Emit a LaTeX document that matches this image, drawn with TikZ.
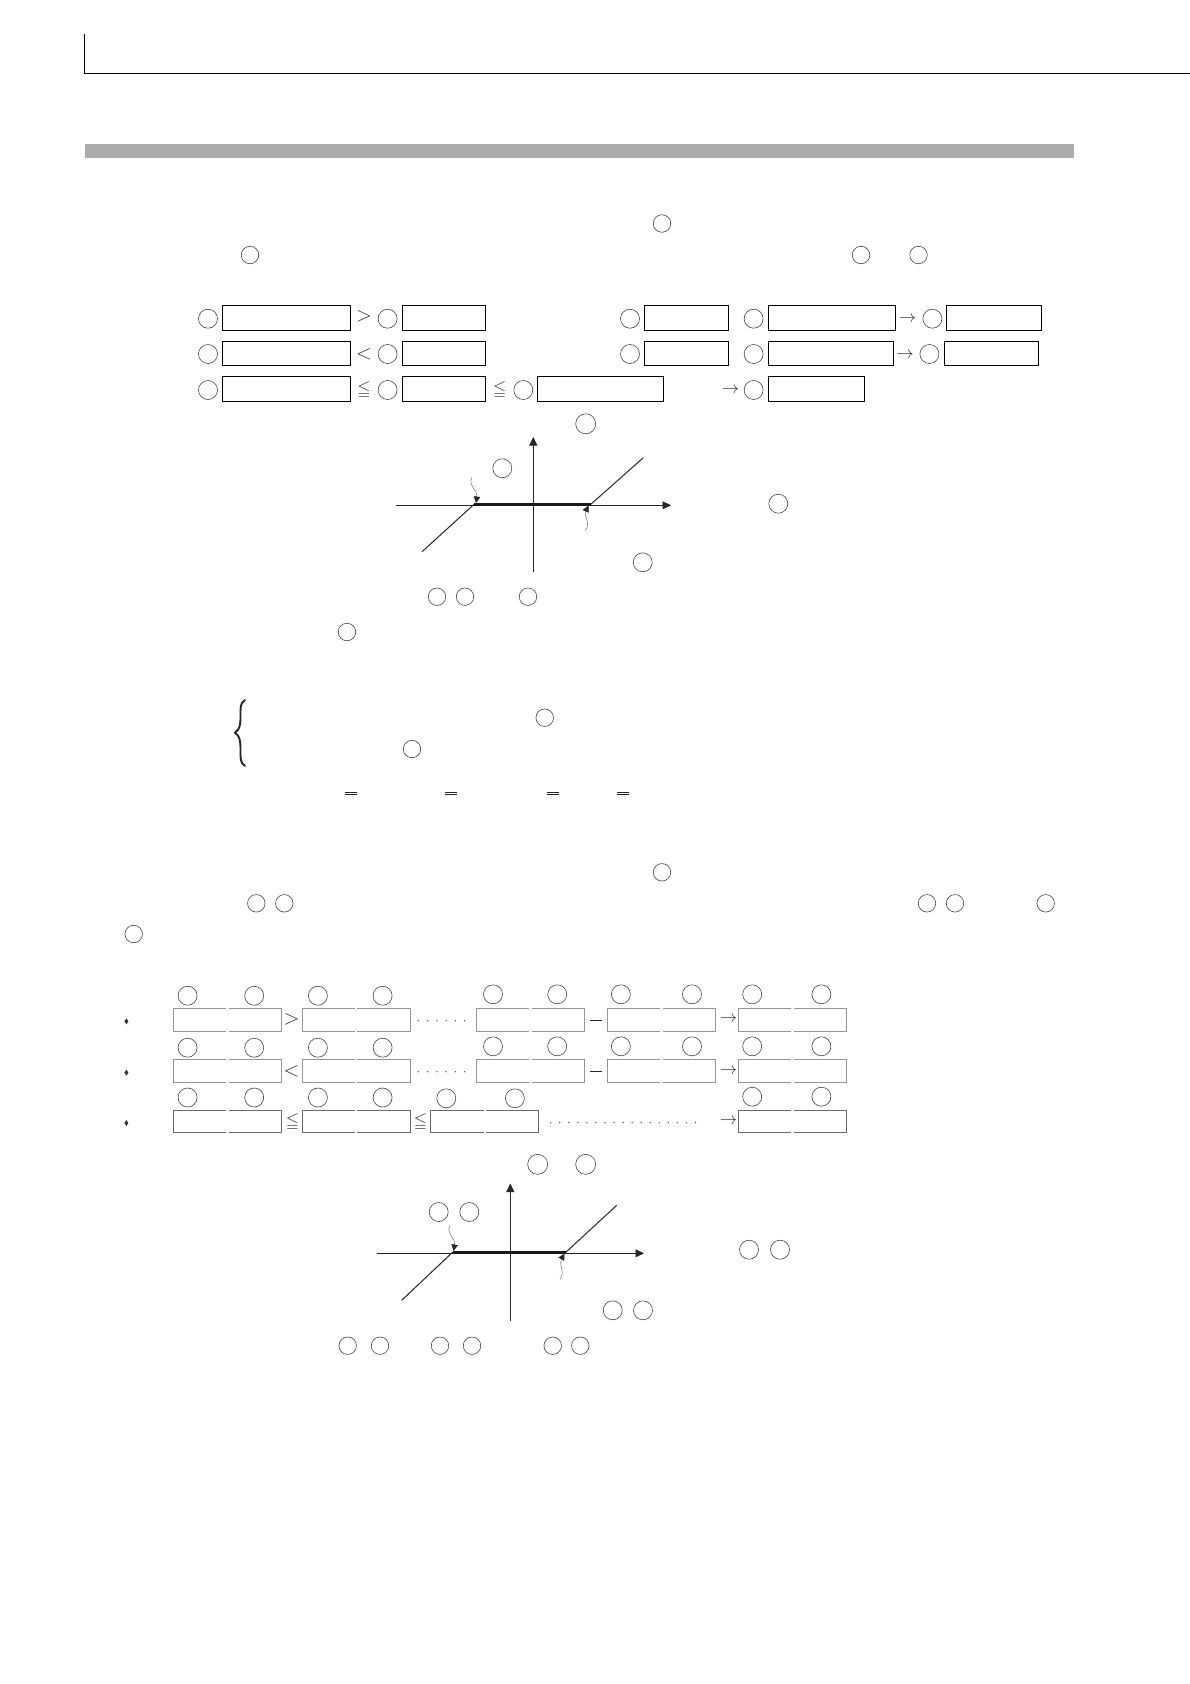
\documentclass[tikz,border=0pt]{standalone}
\usepackage{amssymb}
\usetikzlibrary{arrows.meta}
\definecolor{barcol}{HTML}{ADABAB}
\definecolor{ringcol}{HTML}{444444}
\definecolor{softbox}{HTML}{969696}
\definecolor{darkbox}{HTML}{6A6A6A}
\definecolor{glyphcol}{HTML}{333333}
\tikzset{
  ringa/.style={circle,draw=ringcol,line width=0.6pt,inner sep=0pt,minimum size=17.5pt},
  ringb/.style={circle,draw=ringcol,line width=0.6pt,inner sep=0pt,minimum size=19pt},
  ringc/.style={circle,draw=ringcol,line width=0.6pt,inner sep=0pt,minimum size=20pt},
  symb/.style={inner sep=0pt,text=glyphcol,font=\fontsize{17}{17}\selectfont},
  bigsymb/.style={inner sep=0pt,text=glyphcol,font=\fontsize{21}{21}\selectfont},
  solidbox/.style={draw=black,line width=1pt},
  axisline/.style={draw=black!85,line width=0.9pt},
  slope/.style={draw=black!85,line width=1pt},
  flat/.style={draw=black!90,line width=3pt},
  axisarrow/.style={-{Triangle[length=8.5pt,width=8pt]}},
  leader/.style={draw=black!55,line width=0.5pt,-{Triangle[length=6.5pt,width=6.5pt,color=black!85]}}
}
\newcommand{\solbx}[4]{\draw[solidbox] (#1,#3) rectangle (#2,#4);}
\newcommand{\pairbx}[7]{%
  \draw[#7,line width=0.9pt] (#2,#5) -- (#1,#5) -- (#1,#6) -- (#2,#6);
  \draw[#7,line width=0.9pt] (#3,#5) -- (#4,#5) -- (#4,#6) -- (#3,#6);}
\newcommand{\gemdot}[2]{\fill[black!80] (#1,#2-3) -- (#1+2,#2) -- (#1,#2+3) -- (#1-2,#2) -- cycle;}
\newcommand{\dotrow}[4]{\foreach \i in {1,...,#4}{\fill[black!70] ({#1+(#2-#1)*(\i-1)/(#4-1)},#3) circle (0.75pt);}}
\newcommand{\dbar}[2]{\draw[black!85,line width=0.7pt] (#1-6,#2-1.2) -- (#1+6,#2-1.2) (#1-6,#2+1.2) -- (#1+6,#2+1.2);}
\begin{document}
\begin{tikzpicture}[x=1pt,y=-1pt]
\useasboundingbox (0,0) rectangle (1190,1684);
% header
\coordinate (hA) at (84.3,34);
\coordinate (hB) at (84.3,73.3);
\coordinate (hC) at (1190,73.3);
\draw[black,line width=1.1pt] (hA) -- (hB) -- (hC);
\fill[barcol] (85,144) rectangle (1074,157.7);

% circles of the first block of text
\foreach \x/\y [count=\n] in {662/223.5,250/255,861/255,918.5/255,
   437/596.7,465/596.7,528/596.7,347/632,412/749,544.7/717.7}
  \node[ringa] (ta\n) at (\x,\y) {};

% first comparison table
\foreach \y [count=\r] in {318.7,354}{
  \foreach \x [count=\n] in {208,387.6,630,753.6}
    \node[ringb] (ca\r\n) at (\x,\y) {};
}
\node[ringb] (ca15) at (932.4,318.7) {};
\node[ringb] (ca25) at (929.4,354) {};
\foreach \x [count=\n] in {208,387.6,523.3,753.6}
  \node[ringb] (ca3\n) at (\x,390) {};
\solbx{222}{350.6}{305.3}{330.3}
\solbx{402}{485.8}{305.3}{330.3}
\solbx{644}{728.8}{305.3}{330.3}
\solbx{768}{895}{305.3}{330.3}
\solbx{946}{1041}{305.3}{330.3}
\solbx{222}{350.6}{341.7}{365.3}
\solbx{402}{485.8}{341.7}{365.3}
\solbx{644}{728.8}{341.7}{365.3}
\solbx{768}{893}{341.7}{365.3}
\solbx{944}{1038.5}{341.7}{365.3}
\solbx{222}{350.6}{376.3}{401.3}
\solbx{402}{485.8}{376.3}{401.3}
\solbx{537.3}{663.3}{376.3}{401.3}
\solbx{768}{864.5}{376.3}{401.3}
\node[bigsymb] (sa1) at (364,316.7) {$>$};
\node[bigsymb] (sa2) at (364,354) {$<$};
\node[symb] (sa3) at (364,390) {$\leqq$};
\node[symb] (sa4) at (499.7,390) {$\leqq$};
\node[symb] (sa5) at (907.6,319.5) {$\rightarrow$};
\node[symb] (sa6) at (905,355) {$\rightarrow$};
\node[symb] (sa7) at (730.6,390) {$\rightarrow$};

% first graph
\node[ringc] (ga1) at (585.7,423.8) {};
\node[ringb] (ga2) at (502.3,468.3) {};
\node[ringb] (ga3) at (778.3,503.7) {};
\node[ringb] (ga4) at (642.7,562.3) {};
\coordinate (aVb) at (533.3,571.7);
\coordinate (aVt) at (533.3,437);
\coordinate (aHl) at (396,505.3);
\coordinate (aHr) at (671,505.3);
\coordinate (aL) at (474,504.4);
\coordinate (aR) at (590.7,504.4);
\coordinate (aLo) at (422,551.7);
\coordinate (aUp) at (643.3,457.7);
\coordinate (aW1) at (471.7,477.7);
\coordinate (aW2) at (476,503);
\coordinate (aW3) at (585,530.7);
\coordinate (aW4) at (588.5,505.5);
\draw[axisline,axisarrow] (aVb) -- (aVt);
\draw[axisline,axisarrow] (aHl) -- (aHr);
\draw[slope] (aLo) -- (aL);
\draw[slope] (aR) -- (aUp);
\draw[flat] (aL) -- (aR);
\draw[leader] (aW1) .. controls (468,487) and (478,490) .. (aW2);
\draw[leader] (aW3) .. controls (592,522) and (583,517) .. (aW4);

% brace
\coordinate (brT) at (245,700);
\coordinate (brM) at (235,732.7);
\coordinate (brB) at (245,766);
\draw[black!85,line width=1.9pt,line cap=round,line join=round]
  (brT) .. controls (240,703) and (240.5,708) .. (240.5,716)
  .. controls (240.5,725) and (240,729) .. (brM)
  .. controls (240,736) and (240.5,741) .. (240.5,750)
  .. controls (240.5,758) and (240,763) .. (brB);
\dbar{351}{793.3}
\dbar{451}{793.3}
\dbar{552.7}{793.3}
\dbar{622.7}{793.3}

% circles of the second block of text
\foreach \x/\y [count=\n] in {662/872.3,256.3/903.3,284.3/903.3,927/903.3,955/903.3,1045.7/903.3,133.7/934}
  \node[ringa] (tb\n) at (\x,\y) {};

% second comparison table
\foreach \x [count=\n] in {187.6,254.2,317.9,382.6}{
  \node[ringb] (d1\n) at (\x,995.7) {};
  \node[ringb] (d2\n) at (\x,1047.7) {};
  \node[ringb] (d3\n) at (\x,1097.5) {};
}
\foreach \x [count=\n] in {493,557.2,620.9,692,752.2,821.4}{
  \node[ringb] (e1\n) at (\x,994.3) {};
  \node[ringb] (e2\n) at (\x,1046.3) {};
}
\node[ringb] (f1) at (446.3,1098.3) {};
\node[ringb] (f2) at (514.9,1098.3) {};
\node[ringb] (f3) at (752.2,1096.7) {};
\node[ringb] (f4) at (821.4,1096.7) {};
\foreach \ya/\yb in {1008.7/1031.3,1059.3/1082.3}{
  \pairbx{173.6}{226.4}{228.9}{281.6}{\ya}{\yb}{softbox}
  \pairbx{302.5}{355.2}{357.2}{410}{\ya}{\yb}{softbox}
  \pairbx{476.6}{529.4}{531.8}{584.6}{\ya}{\yb}{softbox}
  \pairbx{607.5}{660.2}{663.2}{715.4}{\ya}{\yb}{softbox}
  \pairbx{738.8}{791}{793.5}{846.3}{\ya}{\yb}{softbox}
}
\pairbx{173.6}{226.4}{228.9}{281.6}{1110.3}{1132.3}{darkbox}
\pairbx{302.5}{355.2}{357.2}{410}{1110.3}{1132.3}{darkbox}
\pairbx{430.3}{483.6}{486}{538.8}{1110.3}{1132.3}{darkbox}
\pairbx{738.8}{791}{793.5}{846.3}{1110.3}{1132.3}{darkbox}
\gemdot{126.4}{1021.3}
\gemdot{126.4}{1072.7}
\gemdot{126.4}{1123}
\node[bigsymb] (sb1) at (291.5,1019.3) {$>$};
\node[bigsymb] (sb2) at (291.5,1071) {$<$};
\node[symb] (sb3) at (292.5,1122) {$\leqq$};
\node[symb] (sb4) at (420.4,1122) {$\leqq$};
\node[symb] (sb5) at (728.4,1019.3) {$\rightarrow$};
\node[symb] (sb6) at (728.4,1071) {$\rightarrow$};
\node[symb] (sb7) at (728.4,1121.7) {$\rightarrow$};
\draw[black!85,line width=0.9pt] (590,1020.3) -- (601.5,1020.3) (590,1071) -- (601.5,1071);
\dotrow{418.4}{464.7}{1020.7}{6}
\dotrow{418.4}{464.7}{1071.7}{6}
\dotrow{550.7}{695.5}{1122.7}{17}

% second graph
\node[ringc] (gb1) at (537.7,1164.3) {};
\node[ringc] (gb2) at (585.7,1164.3) {};
\node[ringb] (gb3) at (438.7,1212) {};
\node[ringb] (gb4) at (469.3,1212) {};
\node[ringb] (gb5) at (749,1249.7) {};
\node[ringb] (gb6) at (780,1249.7) {};
\node[ringb] (gb7) at (612.7,1310.3) {};
\node[ringb] (gb8) at (643,1310.3) {};
\foreach \x [count=\n] in {347.7,380,440,472,552.7,580.3}
  \node[ringa] (tc\n) at (\x,1345.7) {};
\coordinate (bVb) at (510.3,1320.7);
\coordinate (bVt) at (510.3,1183.5);
\coordinate (bHl) at (377.3,1253.3);
\coordinate (bHr) at (644,1253.3);
\coordinate (bL) at (452.7,1252.1);
\coordinate (bR) at (566,1252.1);
\coordinate (bLo) at (401.7,1300.3);
\coordinate (bUp) at (616.7,1205.3);
\coordinate (bW1) at (449.7,1225.3);
\coordinate (bW2) at (453.5,1251);
\coordinate (bW3) at (560,1279);
\coordinate (bW4) at (564.5,1253.5);
\draw[axisline,axisarrow] (bVb) -- (bVt);
\draw[axisline,axisarrow] (bHl) -- (bHr);
\draw[slope] (bLo) -- (bL);
\draw[slope] (bR) -- (bUp);
\draw[flat] (bL) -- (bR);
\draw[leader] (bW1) .. controls (446,1235) and (456,1238) .. (bW2);
\draw[leader] (bW3) .. controls (566,1270) and (558,1265) .. (bW4);
\end{tikzpicture}
\end{document}
